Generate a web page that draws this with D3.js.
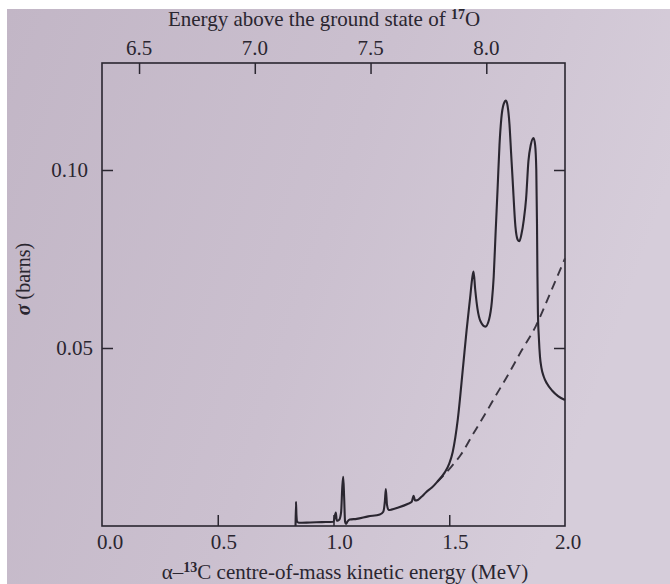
<!DOCTYPE html>
<html><head><meta charset="utf-8">
<script src="https://cdn.jsdelivr.net/npm/d3@7"></script>
<style>
html,body{margin:0;padding:0;background:#fff;}
svg{display:block;}
text{font-family:"Liberation Serif","DejaVu Serif",serif;fill:#2a2630;}
</style></head>
<body><svg id="c" width="670" height="584"></svg>
<script>
// Solid curve: measured cross-section (E_cm in MeV, sigma in barns)
const solidE = [0.836,0.838,0.840,0.843,0.85,0.90,0.95,1.00,1.010,1.014,1.018,1.025,1.033,1.038,1.042,1.046,1.050,1.054,1.060,1.070,1.10,1.15,1.20,1.215,1.222,1.226,1.231,1.238,1.25,1.28,1.32,1.338,1.346,1.352,1.36,1.38,1.40,1.425,1.448,1.48,1.50,1.515,1.537,1.560,1.575,1.590,1.600,1.605,1.612,1.622,1.635,1.656,1.672,1.684,1.692,1.700,1.709,1.717,1.725,1.735,1.745,1.752,1.760,1.767,1.774,1.786,1.795,1.803,1.812,1.822,1.832,1.842,1.852,1.864,1.871,1.876,1.879,1.881,1.883,1.887,1.892,1.898,1.908,1.922,1.945,1.970,2.000];
const solidS = [0.0000,0.0068,0.0030,0.0012,0.0009,0.0010,0.0011,0.0012,0.0038,0.0016,0.0015,0.0018,0.0040,0.0110,0.0138,0.0080,0.0012,0.0006,0.0012,0.0018,0.0020,0.0027,0.0032,0.0040,0.0070,0.0104,0.0060,0.0045,0.0046,0.0052,0.0062,0.0068,0.0085,0.0072,0.0072,0.0082,0.0095,0.0108,0.0124,0.0150,0.0175,0.0208,0.0300,0.0450,0.0550,0.0640,0.0700,0.0715,0.0665,0.0610,0.0575,0.0560,0.0580,0.0630,0.0700,0.0820,0.0950,0.1070,0.1145,0.1185,0.1195,0.1180,0.1130,0.1050,0.0970,0.0840,0.0805,0.0800,0.0820,0.0860,0.0920,0.1025,0.1070,0.1090,0.1070,0.1000,0.0850,0.0700,0.0600,0.0530,0.0475,0.0445,0.0420,0.0400,0.0380,0.0365,0.0354];
// Dashed curve: non-resonant background
const dashE = [1.448,1.50,1.55,1.60,1.66,1.70,1.75,1.81,1.875,1.94,2.00];
const dashS = [0.0124,0.0160,0.0200,0.0255,0.0320,0.0365,0.0420,0.0490,0.0563,0.0660,0.0752];

const bottomTicks = [0.5, 1.0, 1.5];
const bottomLabels = [0.0, 0.5, 1.0, 1.5, 2.0];
const topTicks = [6.5, 7.0, 7.5, 8.0];
const yTicks = [0.05, 0.10];
const groundOffset = 6.34; // E(17O) = E_cm + threshold

const W = 670, H = 584;
const L = 102, R = 565, T = 63, B = 526;
const svg = d3.select('#c');
const ink = '#2a2630';

// background (photographed page)
const grad = svg.append('defs').append('linearGradient').attr('id','bg').attr('x1','0').attr('x2','1').attr('y1','0').attr('y2','0.3');
grad.append('stop').attr('offset','0').attr('stop-color','#c2b6c6');
grad.append('stop').attr('offset','0.55').attr('stop-color','#cbc0cf');
grad.append('stop').attr('offset','1').attr('stop-color','#d6cdda');
svg.append('rect').attr('width',W).attr('height',H).attr('fill','#ffffff');
svg.append('rect').attr('x',7).attr('y',9).attr('width',W-7).attr('height',H-9).attr('fill','url(#bg)');

const x = d3.scaleLinear().domain([0,2]).range([L,R]);
const y = d3.scaleLinear().domain([0,(B-T)/3560]).range([B,T]);

// frame
svg.append('rect').attr('x',L).attr('y',T).attr('width',R-L).attr('height',B-T)
  .attr('fill','none').attr('stroke',ink).attr('stroke-width',1.6);

// bottom axis (ticks inward)
const gB = svg.append('g').attr('transform',`translate(0,${B})`)
  .call(d3.axisBottom(x).tickValues(bottomTicks).tickSizeInner(-11).tickSizeOuter(0).tickFormat(''));
gB.select('.domain').remove();
gB.selectAll('line').attr('stroke',ink).attr('stroke-width',1.5);
svg.append('g').selectAll('text').data(bottomLabels).join('text')
  .attr('x',d=>x(d)+ (d===0?8:(d===2?3:6))).attr('y',549).attr('text-anchor','middle')
  .attr('font-size',21).text(d=>d.toFixed(1));

// top axis (energy above ground state of 17O)
const xTop = d3.scaleLinear().domain([groundOffset, 2+groundOffset]).range([L,R]);
const gT = svg.append('g').attr('transform',`translate(0,${T})`)
  .call(d3.axisTop(xTop).tickValues(topTicks).tickSizeInner(-11).tickSizeOuter(0).tickFormat(''));
gT.select('.domain').remove();
gT.selectAll('line').attr('stroke',ink).attr('stroke-width',1.5);
svg.append('g').selectAll('text').data(topTicks).join('text')
  .attr('x',d=>xTop(d)).attr('y',55).attr('text-anchor','middle')
  .attr('font-size',21).text(d=>d.toFixed(1));

// left and right axes (ticks inward)
const gL = svg.append('g').attr('transform',`translate(${L},0)`)
  .call(d3.axisLeft(y).tickValues(yTicks).tickSizeInner(-11).tickSizeOuter(0).tickFormat(''));
gL.select('.domain').remove();
gL.selectAll('line').attr('stroke',ink).attr('stroke-width',1.5);
const gR = svg.append('g').attr('transform',`translate(${R},0)`)
  .call(d3.axisRight(y).tickValues(yTicks).tickSizeInner(-11).tickSizeOuter(0).tickFormat(''));
gR.select('.domain').remove();
gR.selectAll('line').attr('stroke',ink).attr('stroke-width',1.5);
svg.append('g').selectAll('text').data(yTicks).join('text')
  .attr('x',d=> d===0.10 ? 88 : 93).attr('y',d=>y(d)+7).attr('text-anchor','end')
  .attr('font-size',21).text(d=>d.toFixed(2));

// titles
const tt = svg.append('text').attr('x',324).attr('y',26).attr('text-anchor','middle').attr('font-size',21);
tt.append('tspan').text('Energy above the ground state of ');
tt.append('tspan').attr('font-size',14).attr('font-weight','bold').attr('dy',-7).text('17');
tt.append('tspan').attr('dy',7).text('O');

const bt = svg.append('text').attr('x',345).attr('y',579).attr('text-anchor','middle').attr('font-size',21);
bt.append('tspan').text('\u03b1\u2013');
bt.append('tspan').attr('font-size',14).attr('font-weight','bold').attr('dy',-7).text('13');
bt.append('tspan').attr('dy',7).text('C centre-of-mass kinetic energy (MeV)');

const yl = svg.append('text').attr('transform','translate(30,279) rotate(-90)').attr('text-anchor','middle').attr('font-size',20);
yl.append('tspan').attr('font-style','italic').attr('font-weight','bold').text('\u03c3');
yl.append('tspan').text(' (barns)');

// curves
const solid = solidE.map((e,i)=>[e,solidS[i]]);
const dashed = dashE.map((e,i)=>[e,dashS[i]]);
const line = d3.line().x(d=>x(d[0])).y(d=>y(d[1])).curve(d3.curveMonotoneX);
svg.append('path').attr('d',line(dashed)).attr('fill','none').attr('stroke','#3a3540')
  .attr('stroke-width',1.9).attr('stroke-dasharray','9,6');
svg.append('path').attr('d',line(solid)).attr('fill','none').attr('stroke',ink)
  .attr('stroke-width',2.1).attr('stroke-linejoin','round');
</script></body></html>
